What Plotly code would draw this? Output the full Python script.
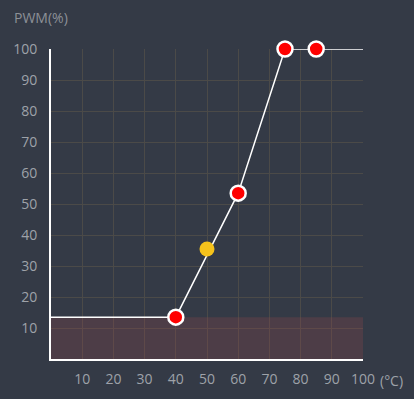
import plotly.graph_objects as go

# data
curve_temp = [0, 40, 60, 75, 85, 100]
curve_pwm = [13.5, 13.5, 53.5, 100, 100, 100]
point_temp = [40, 60, 75, 85]
point_pwm = [13.5, 53.5, 100, 100]
current_temp = [50]
current_pwm = [35.5]
min_pwm = 13.5
x_ticks = [10, 20, 30, 40, 50, 60, 70, 80, 90, 100]
y_ticks = [10, 20, 30, 40, 50, 60, 70, 80, 90, 100]

BG = "#343a46"
GRID = "#4b4a48"
TXT = "#9ea2a9"
FONT = "Open Sans"

fig = go.Figure()
fig.add_trace(go.Scatter(x=curve_temp, y=curve_pwm, mode="lines",
                         line=dict(color="white", width=1.5),
                         hoverinfo="skip", cliponaxis=False))
fig.add_trace(go.Scatter(x=current_temp, y=current_pwm, mode="markers",
                         marker=dict(color="#f5c21b", size=15, line=dict(width=0)),
                         cliponaxis=False))
fig.add_trace(go.Scatter(x=point_temp, y=point_pwm, mode="markers",
                         marker=dict(color="#ff0000", size=15,
                                     line=dict(color="white", width=2.5)),
                         cliponaxis=False))

fig.add_shape(type="rect", xref="x", yref="y", x0=0, x1=100, y0=0, y1=min_pwm,
              fillcolor="rgba(150,70,75,0.25)", line=dict(width=0), layer="between")

fig.add_annotation(text="PWM(%)", xref="paper", yref="paper", x=-0.124, y=1.101,
                   xanchor="left", yanchor="middle", showarrow=False,
                   font=dict(family=FONT, size=14, color="#8c9097"))
fig.add_annotation(text="(°C)", xref="paper", yref="paper", x=1.047, y=0,
                   xanchor="left", yanchor="middle", yshift=-21, showarrow=False,
                   font=dict(family=FONT, size=14, color=TXT))

fig.update_layout(
    template="none",
    width=414, height=399,
    margin=dict(l=51, r=51, t=49, b=40, autoexpand=False),
    paper_bgcolor=BG, plot_bgcolor=BG,
    showlegend=False,
    font=dict(family=FONT, size=14, color=TXT),
)
fig.update_xaxes(range=[0, 100], tickvals=x_ticks, ticktext=[str(v) for v in x_ticks],
                 showgrid=True, gridcolor=GRID, gridwidth=1, zeroline=False,
                 showline=True, linecolor="white", linewidth=2, automargin=False,
                 ticks="", ticklabelstandoff=6, fixedrange=True)
fig.update_yaxes(range=[0, 100], tickvals=y_ticks, ticktext=[str(v) for v in y_ticks],
                 showgrid=True, gridcolor=GRID, gridwidth=1, zeroline=False,
                 showline=True, linecolor="white", linewidth=2, automargin=False,
                 ticks="", ticklabelstandoff=9, fixedrange=True)

fig.write_html("out.html", config={"displayModeBar": False},
               post_script="document.body.style.margin='0';document.body.style.background='%s';" % BG)
